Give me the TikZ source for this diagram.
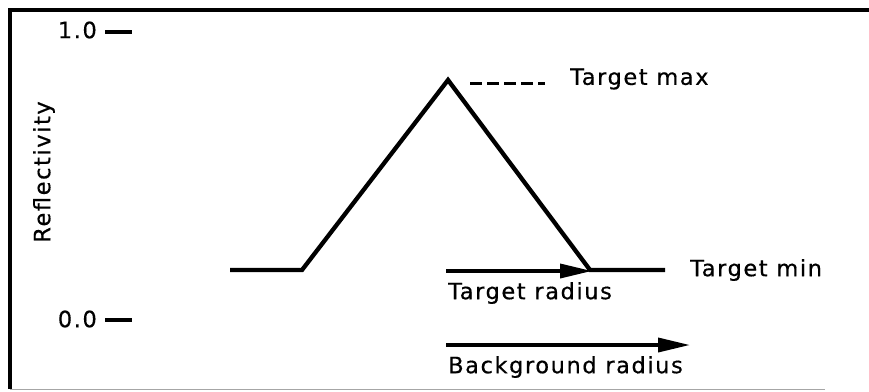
\documentclass[tikz,border=0pt]{standalone}
\usepackage{fontspec}
\setmainfont{DejaVu Sans}[LetterSpace=7,FakeBold=0.5]
\usetikzlibrary{arrows.meta}
\begin{document}
\begin{tikzpicture}[x=1pt,y=-1pt,
  lbl/.style={inner sep=0pt,font=\fontsize{22.5}{26}\selectfont},
  curve/.style={line width=4.3pt,line join=miter},
  radarrow/.style={line width=3.6pt,-{Triangle[length=32pt,width=14pt]}},
  tick/.style={line width=3.5pt}]
\useasboundingbox (0,0) rectangle (869,391);
% frame
\draw[line width=4pt] (869,10) -- (10,10) -- (10,389);
\draw[line width=1pt,gray!70] (10,389) -- (825,389);
% axis ticks and labels
\coordinate (t1a) at (105,32); \coordinate (t1b) at (132,32);
\coordinate (t0a) at (105,320); \coordinate (t0b) at (132,320);
\draw[tick] (t1a) -- (t1b);
\draw[tick] (t0a) -- (t0b);
\node[lbl,anchor=east] (one) at (97,30) {1.0};
\node[lbl,anchor=east] (zero) at (97,319) {0.0};
\node[lbl,rotate=90] (refl) at (44,172) {Reflectivity};
% profile
\coordinate (p0) at (230,270);
\coordinate (p1) at (302,270);
\coordinate (pk) at (448,80);
\coordinate (p2) at (590,270);
\coordinate (p3) at (665,270);
\draw[curve] (p0) -- (p1) -- (pk) -- (p2) -- (p3);
% target max
\coordinate (dm0) at (470,83);
\coordinate (dm1) at (545,83);
\draw[line width=3pt,dash pattern=on 12pt off 5pt] (dm0) -- (dm1);
\node[lbl,anchor=west] (tmax) at (570,79) {Target max};
\node[lbl,anchor=west] (tmin) at (690,270) {Target min};
% radius arrows
\coordinate (ra0) at (446,271);
\coordinate (ra1) at (592,271);
\draw[radarrow] (ra0) -- (ra1);
\node[lbl,anchor=west] (trad) at (448,293) {Target radius};
\coordinate (rb0) at (446,345);
\coordinate (rb1) at (690,345);
\draw[radarrow] (rb0) -- (rb1);
\node[lbl,anchor=west] (brad) at (448,367) {Background radius};
\end{tikzpicture}
\end{document}
